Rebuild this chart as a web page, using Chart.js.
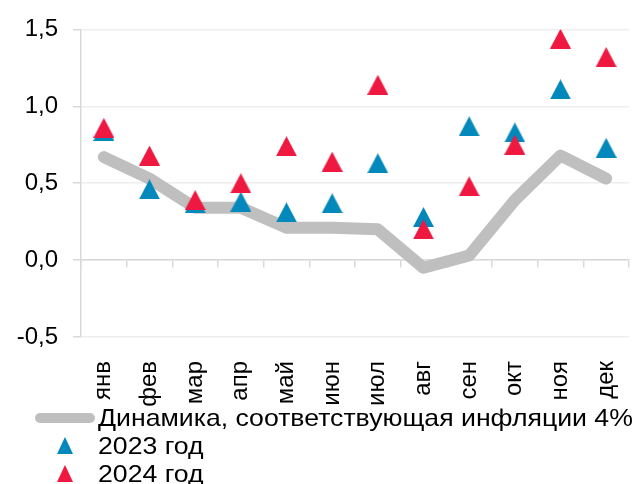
<!DOCTYPE html>
<html>
<head>
<meta charset="utf-8">
<script src="https://cdn.jsdelivr.net/npm/chart.js@4.4.1/dist/chart.umd.min.js"></script>
<style>
  body { margin: 0; background: #fff; }
  #wrap { position: relative; width: 635px; height: 484px; font-family: "Liberation Sans", Arial, sans-serif; }
  .leg { position: absolute; left: 98px; font-size: 24px; line-height: 24px; color: #000; white-space: nowrap; transform: scaleX(1.11); transform-origin: 0 50%; }
  .sample { position: absolute; left: 35px; width: 60px; height: 10px; border-radius: 5px; background: #bfbfbf; top: 413px; }
  .tri { position: absolute; left: 57px; width: 16px; height: 17px; clip-path: polygon(50% 0, 100% 100%, 0 100%); }
</style>
</head>
<body>
<div id="wrap">
  <canvas id="myChart"></canvas>
  <div class="sample"></div>
  <div class="leg" style="top:406px">Динамика, соответствующая инфляции 4%</div>
  <div class="tri" style="top:437px;background:#0288bb"></div>
  <div class="leg" style="top:434px">2023 год</div>
  <div class="tri" style="top:465px;background:#ee1840"></div>
  <div class="leg" style="top:462px">2024 год</div>
</div>
<script>
const months = ['янв', 'фев', 'мар', 'апр', 'май', 'июн', 'июл', 'авг', 'сен', 'окт', 'ноя', 'дек']
const target4 = [0.67, 0.53, 0.34, 0.34, 0.21, 0.21, 0.20, -0.05, 0.03, 0.39, 0.68, 0.53]
const y2023 = [0.84, 0.46, 0.37, 0.38, 0.31, 0.37, 0.63, 0.28, 0.87, 0.83, 1.11, 0.73]
const y2024 = [0.86, 0.68, 0.39, 0.50, 0.74, 0.64, 1.14, 0.20, 0.48, 0.75, 1.44, 1.32]
const yTicks = [-0.5, 0, 0.5, 1.0, 1.5]

const font = { family: '"Liberation Sans", Arial, sans-serif', size: 24 }

// excel-like marker: triangle filling a square box centred on the value
function triangle(color) {
  const c = document.createElement('canvas')
  c.width = 21
  c.height = 20
  const ctx = c.getContext('2d')
  ctx.fillStyle = color
  ctx.beginPath()
  ctx.moveTo(10.5, 0)
  ctx.lineTo(21, 20)
  ctx.lineTo(0, 20)
  ctx.closePath()
  ctx.fill()
  return c
}

new Chart(document.getElementById('myChart'), {
  type: 'line',
  data: {
    labels: months,
    datasets: [
      {
        label: 'Динамика, соответствующая инфляции 4%',
        data: target4,
        borderColor: '#bfbfbf',
        borderWidth: 12,
        borderCapStyle: 'round',
        borderJoinStyle: 'round',
        pointRadius: 0,
        order: 3
      },
      {
        label: '2023 год',
        data: y2023,
        showLine: false,
        pointStyle: triangle('#0288bb'),
        pointRadius: 10,
        backgroundColor: '#0288bb',
        borderColor: '#0288bb',
        order: 2
      },
      {
        label: '2024 год',
        data: y2024,
        showLine: false,
        pointStyle: triangle('#ee1840'),
        pointRadius: 10,
        backgroundColor: '#ee1840',
        borderColor: '#ee1840',
        order: 1
      }
    ]
  },
  options: {
    responsive: true,
    maintainAspectRatio: false,
    animation: false,
    events: [],
    layout: { autoPadding: false, padding: { top: 28, right: 6, left: 0, bottom: 0 } },
    plugins: { legend: { display: false }, tooltip: { enabled: false } },
    scales: {
      y: {
        min: -0.5,
        max: 1.5,
        afterFit: s => { s.width = 81 },
        afterBuildTicks: s => { s.ticks = yTicks.map(v => ({ value: v })) },
        ticks: {
          font: font,
          color: '#000',
          padding: 15,
          callback: v => v.toFixed(1).replace('.', ',')
        },
        grid: { color: '#eeeeee', lineWidth: 1.5, tickLength: 8, tickColor: '#d9d9d9' },
        border: { color: '#d9d9d9', width: 1.5 }
      },
      x: {
        offset: true,
        afterFit: s => { s.height = 147; s.paddingLeft = 0; s.paddingRight = 0 },
        ticks: { font: font, color: '#000', padding: 16, minRotation: 90, maxRotation: 90, autoSkip: false },
        grid: { display: false },
        border: { display: false }
      },
      x2: {
        type: 'category',
        labels: months,
        offset: true,
        position: { y: 0 },
        afterFit: s => { s.paddingLeft = 0; s.paddingRight = 0 },
        ticks: { display: false },
        grid: { drawOnChartArea: false, offset: true, tickLength: 7, color: '#d9d9d9', lineWidth: 1.5 },
        border: { color: '#d9d9d9', width: 1.5 }
      }
    }
  }
})
</script>
</body>
</html>
